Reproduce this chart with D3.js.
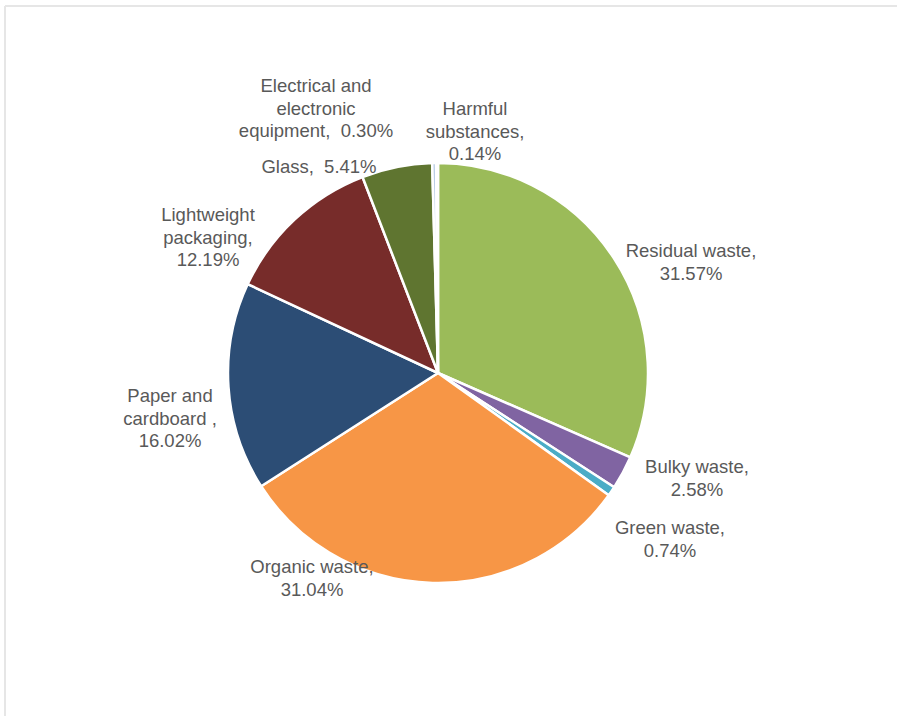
<!DOCTYPE html>
<html>
<head>
<meta charset="utf-8">
<script src="https://cdn.jsdelivr.net/npm/d3@7/dist/d3.min.js"></script>
<style>
  html, body { margin: 0; padding: 0; background: #fff; }
  svg { display: block; }
  text { font-family: "Liberation Sans", Arial, sans-serif; font-size: 18.5px; fill: #595959; white-space: pre; }
</style>
</head>
<body>
<svg id="chart" width="897" height="716"></svg>
<script>
// Composition of household waste (share of total, %)
const categories = [
  "Residual waste", "Bulky waste", "Green waste", "Organic waste",
  "Paper and cardboard ", "Lightweight packaging", "Glass",
  "Electrical and electronic equipment", "Harmful substances"
];
const shares = [31.57, 2.58, 0.74, 31.04, 16.02, 12.19, 5.41, 0.30, 0.14];
const sliceColors = [
  "#9BBB59", "#8064A2", "#4BACC6", "#F79646",
  "#2C4D75", "#772C2A", "#5F7530", "#B9CDE5", "#DCE6F2"
];

// Label placement: anchor of the first line and words per line
const labelLayout = [
  { x: 691, y: 250, lines: [2, 1] },
  { x: 697, y: 466, lines: [2, 1] },
  { x: 670, y: 527, lines: [2, 1] },
  { x: 312, y: 566, lines: [2, 1] },
  { x: 170, y: 395, lines: [2, 2, 1] },
  { x: 208, y: 214, lines: [1, 1, 1] },
  { x: 319, y: 166, lines: [2] },
  { x: 316, y: 85,  lines: [2, 1, 2] },
  { x: 475, y: 108, lines: [1, 1, 1] }
];

const width = 897, height = 716;
const cx = 438, cy = 373, radius = 210;
const lineHeight = 22.5;

const svg = d3.select("#chart");

// light frame along the top and left edges
svg.append("line").attr("x1", 5).attr("y1", 6).attr("x2", width).attr("y2", 6)
  .attr("stroke", "#E6E6E6").attr("stroke-width", 2);
svg.append("line").attr("x1", 5).attr("y1", 6).attr("x2", 5).attr("y2", height)
  .attr("stroke", "#E6E6E6").attr("stroke-width", 2);

const data = categories.map((c, i) => ({ name: c, value: shares[i], color: sliceColors[i] }));

const pie = d3.pie().value(d => d.value).sort(null).startAngle(0).endAngle(2 * Math.PI);
const arc = d3.arc().innerRadius(0).outerRadius(radius);

const g = svg.append("g").attr("transform", `translate(${cx},${cy})`);
g.selectAll("path")
  .data(pie(data))
  .join("path")
  .attr("d", arc)
  .attr("fill", d => d.data.color)
  .attr("stroke", "#fff")
  .attr("stroke-width", 2.5)
  .attr("stroke-linejoin", "round");

// data labels: "name,  value%" broken into lines
data.forEach((d, i) => {
  const pct = d.value.toFixed(2) + "%";
  const words = (d.name.trim() === d.name ? d.name + "," : d.name + ",").split(/ +/).filter(w => w.length);
  words.push(pct);
  const layout = labelLayout[i];
  const lines = [];
  let k = 0;
  layout.lines.forEach(n => {
    const part = words.slice(k, k + n);
    k += n;
    let s = "";
    part.forEach((w, j) => {
      if (j > 0) s += (w === pct ? "  " : " ");
      s += w;
    });
    lines.push(s);
  });
  const t = svg.append("text")
    .attr("text-anchor", "middle")
    .attr("dominant-baseline", "central");
  lines.forEach((ln, j) => {
    t.append("tspan")
      .attr("x", layout.x)
      .attr("y", layout.y + j * lineHeight)
      .text(ln);
  });
});
</script>
</body>
</html>
